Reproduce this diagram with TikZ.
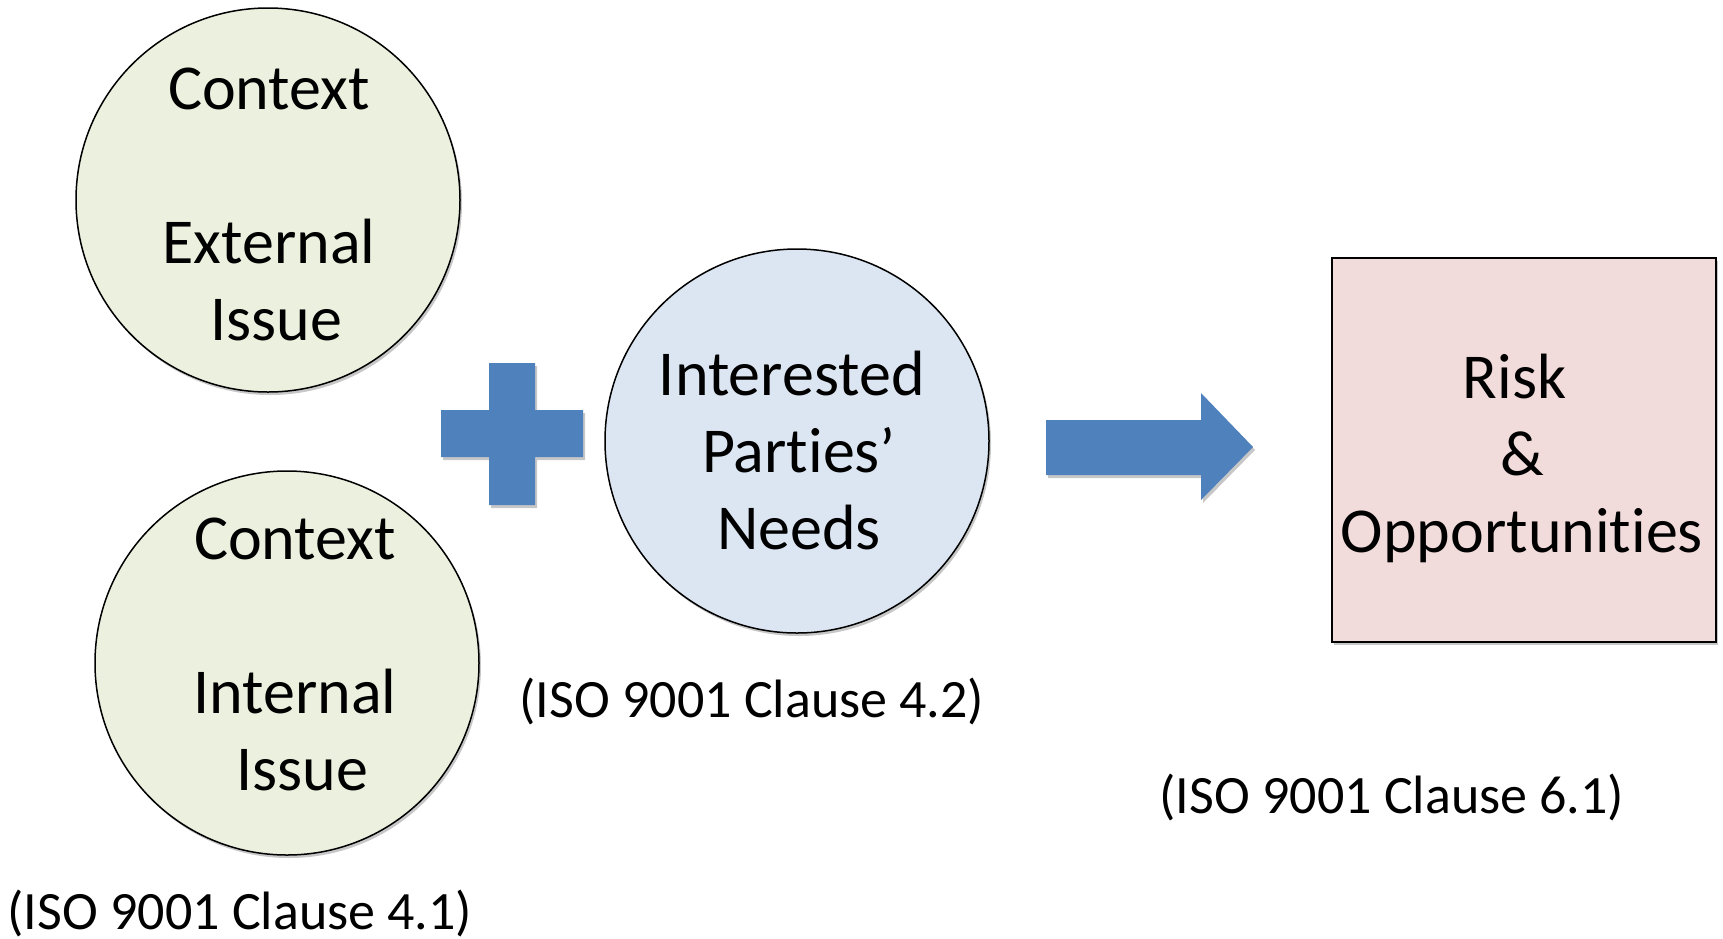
\documentclass[tikz,border=0pt]{standalone}
\usepackage{fontspec}
\setmainfont{Carlito}[Ligatures={NoCommon,NoContextual}]
\usetikzlibrary{shadows}
\definecolor{olivelight}{HTML}{EBF1DE}
\definecolor{bluelight}{HTML}{DCE6F2}
\definecolor{roselight}{HTML}{F2DCDB}
\definecolor{officeblue}{HTML}{4F81BD}
\newcommand{\wordgap}{\hspace*{14.5pt}}
% keeps t and i as separate glyphs
\newcommand{\noligti}{t\kern0pt i}
\begin{document}
\begin{tikzpicture}[x=1pt,y=-1pt,
  softshadow/.style={drop shadow={shadow xshift=2pt, shadow yshift=-3pt, opacity=0.22, fill=black}},
  blob/.style={circle, draw=black, line width=1.5pt, minimum size=384pt, inner sep=0pt, softshadow},
  issue/.style={blob, fill=olivelight},
  parties/.style={blob, fill=bluelight},
  riskbox/.style={rectangle, draw=black, line width=1.5pt, fill=roselight, minimum width=384pt, minimum height=384pt, inner sep=0pt, softshadow},
  bigtext/.style={font=\fontsize{64}{77}\selectfont, align=center, inner sep=0pt},
  clause/.style={font=\fontsize{54}{64}\selectfont, inner sep=0pt},
  shapefill/.style={fill=officeblue, softshadow}]
  \useasboundingbox (0,0) rectangle (1723,938);
  \fill[white] (0,0) rectangle (1723,938);

  % context circles, interested parties, risk box
  \node[issue] (ext) at (268,200) {};
  \node[issue] (int) at (287,663) {};
  \node[parties] (ip) at (797,441) {};
  \node[riskbox] (risk) at (1524,450) {};

  % plus sign
  \path[shapefill] (489,363) -- (535,363) -- (535,410) -- (583,410) -- (583,457)
    -- (535,457) -- (535,505) -- (489,505) -- (489,457) -- (441,457)
    -- (441,410) -- (489,410) -- cycle;

  % block arrow
  \path[shapefill] (1046,420) -- (1201,420) -- (1201,393) -- (1253,447)
    -- (1201,500) -- (1201,475) -- (1046,475) -- cycle;

  % texts
  \node[bigtext] (extT) at (269,204) {Context\\[77pt]External\\\wordgap Issue};
  \node[bigtext] (intT) at (295,654) {Context\\[77pt]Internal\\\wordgap Issue};
  \node[bigtext] (ipT) at (799,451) {Interested\wordgap\\Par\noligti es’\\Needs};
  \node[bigtext] (riskT) at (1522,458) {Risk\wordgap\\\&\wordgap\\Opportuni\noligti es};

  \node[clause] (c42) at (752,701) {(ISO 9001 Clause 4.2)};
  \node[clause] (c61) at (1392,797) {(ISO 9001 Clause 6.1)};
  \node[clause] (c41) at (240,913) {(ISO 9001 Clause 4.1)};
\end{tikzpicture}
\end{document}
